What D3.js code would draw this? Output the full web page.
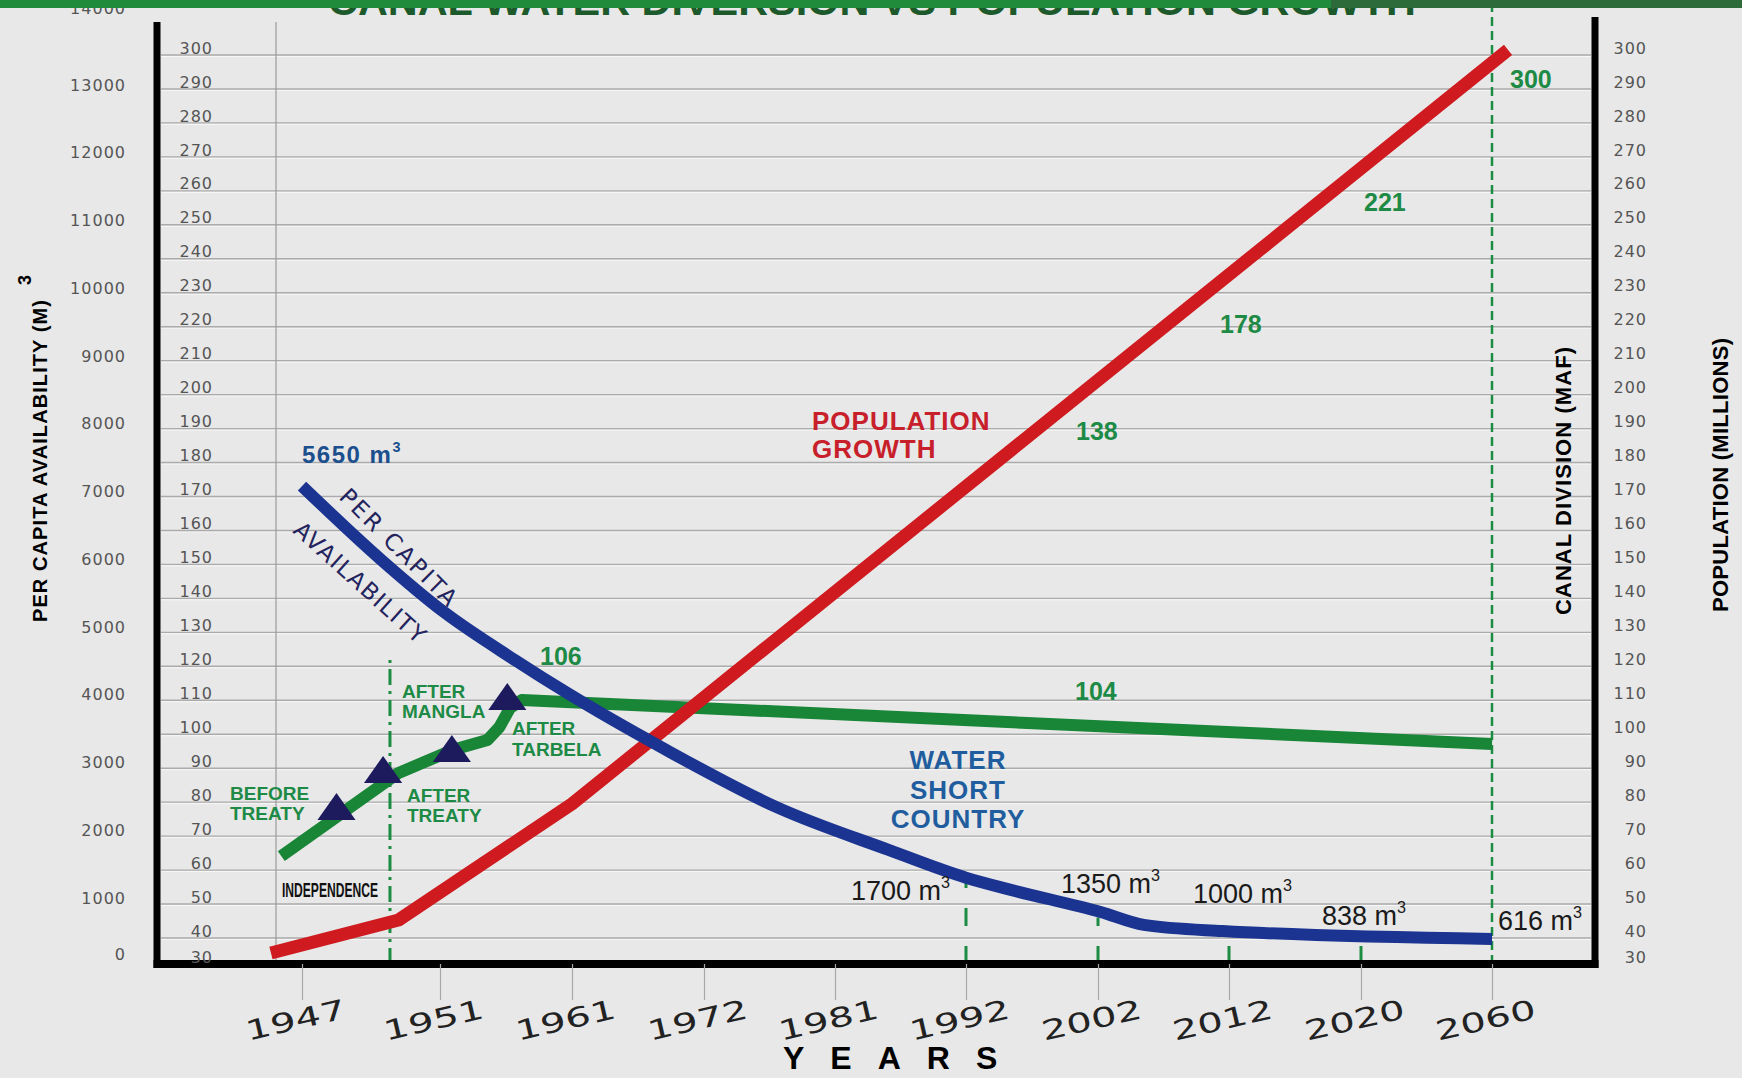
<!doctype HTML>
<html>
<head>
    <style>
        body { margin: 0; background: #e8e8e8; }
        svg { display: block; }
        .tick text { font-family: "DejaVu Sans", sans-serif; font-size: 16px; fill: #555; letter-spacing: 1px; }
    </style>
    <script src="https://d3js.org/d3.v7.min.js"></script>
</head>
<body>
<div id="chart"></div>
<script>

    // year axis (unevenly spaced categories on an even grid)
    var years = [1947, 1951, 1961, 1972, 1981, 1992, 2002, 2012, 2020, 2060];

    // population growth (millions) - red line, right axis
    var popYears = [1946.1, 1949.8, 1961, 2064.9];
    var popValues = [34.2, 45.3, 79.5, 301.5];

    // per capita availability (m3) - blue line, outer left axis
    var capYears = [1947, 1949.3, 1951.3, 1956.7, 1960.6, 1968.6, 1977.1, 1985.5, 1992, 1995.4, 2002.2, 2005.5, 2011.5, 2060];
    var capValues = [7080, 5990, 5220, 4510, 4030, 3210, 2330, 1710, 1300, 1120, 750, 520, 410, 270];

    // canal diversion (MAF) - green line, inner left axis
    var canalYears = [1946.4, 1949.8, 1952, 1954.6, 1955.5, 1956.3, 1957.2, 2060];
    var canalValues = [64.1, 88.6, 95.4, 98.3, 102.1, 107.7, 110.1, 97.1];

    // milestones (triangles) on the canal line
    var markYears = [1948.0, 1949.35, 1951.9, 1956.1];
    var markValues = [77.4, 88.3, 94.5, 109.8];

    // green guide lines: year and top (MAF units)
    var guideYears = [1949.55, 1992, 2002, 2012, 2020, 2060];
    var guideTops = [122, 57, 46, 40, 41.5, 316];

    // tick labels
    var capTicks = d3.range(0, 14001, 1000);
    var mafTicks = d3.range(30, 301, 10);

    var canvasWidth = 1742;
    var canvasHeight = 1078;
    var left = 157, right = 1595, bottom = 964;

    var svg = d3.select("#chart").append("svg")
        .attr("width", canvasWidth)
        .attr("height", canvasHeight);

    svg.append("rect")
        .attr("width", canvasWidth)
        .attr("height", canvasHeight)
        .attr("fill", "#e8e8e8");

    // scales
    var x = d3.scaleLinear()
        .domain(years)
        .range([302, 440, 572, 704, 835, 966, 1098, 1229, 1361, 1492]);
    var yMaf = d3.scaleLinear()
        .domain([30, 40, 300])
        .range([964, 938, 55]);
    var yCap = d3.scaleLinear()
        .domain([0, 1000, 13000, 14000])
        .range([954, 898, 85, 8]);

    // horizontal grid (embossed look)
    var gridVals = mafTicks.filter(d => d >= 40);
    svg.append("g").selectAll("line")
        .data(gridVals)
        .join("line")
        .attr("x1", left + 4).attr("x2", right - 4)
        .attr("y1", d => yMaf(d) + 1.5).attr("y2", d => yMaf(d) + 1.5)
        .attr("stroke", "#f7f7f7").attr("stroke-width", 1);
    svg.append("g").selectAll("line")
        .data(gridVals)
        .join("line")
        .attr("x1", left + 4).attr("x2", right - 4)
        .attr("y1", d => yMaf(d)).attr("y2", d => yMaf(d))
        .attr("stroke", "#ababab").attr("stroke-width", 1.4);

    // single vertical grid line
    svg.append("line")
        .attr("x1", 276).attr("x2", 276)
        .attr("y1", 22).attr("y2", bottom)
        .attr("stroke", "#9a9a9a").attr("stroke-width", 1.2);

    // green guide lines
    var dashes = ["16,6,3,6", "18,20", "18,20", "18,20", "18,20", "9,5"];
    svg.append("g").selectAll("line")
        .data(d3.zip(guideYears, guideTops))
        .join("line")
        .attr("x1", d => x(d[0])).attr("x2", d => x(d[0]))
        .attr("y1", bottom).attr("y2", d => yMaf(d[1]))
        .attr("stroke", "#1c8c43")
        .attr("stroke-width", (d, i) => i == 5 ? 2.5 : 3)
        .attr("stroke-dasharray", (d, i) => dashes[i]);

    // data lines
    var mafLine = d3.line().x(d => x(d[0])).y(d => yMaf(d[1]));
    var capLine = d3.line().x(d => x(d[0])).y(d => yCap(d[1])).curve(d3.curveMonotoneX);

    svg.append("path")
        .datum(d3.zip(canalYears, canalValues))
        .attr("d", mafLine)
        .attr("fill", "none")
        .attr("stroke", "#188537")
        .attr("stroke-width", 12)
        .attr("stroke-linejoin", "round");

    svg.append("path")
        .datum(d3.zip(popYears, popValues))
        .attr("d", mafLine)
        .attr("fill", "none")
        .attr("stroke", "#cf1b1f")
        .attr("stroke-width", 13)
        .attr("stroke-linejoin", "round");

    svg.append("path")
        .datum(d3.zip(capYears, capValues))
        .attr("d", capLine)
        .attr("fill", "none")
        .attr("stroke", "#1b3491")
        .attr("stroke-width", 12);

    // triangles
    svg.append("g").selectAll("path")
        .data(d3.zip(markYears, markValues))
        .join("path")
        .attr("d", d3.symbol().type(d3.symbolTriangle).size(520))
        .attr("transform", d => `translate(${x(d[0])}, ${yMaf(d[1])}) scale(1.1, 0.9)`)
        .attr("fill", "#1d1b5e");

    // frame
    svg.append("line").attr("x1", left).attr("x2", left).attr("y1", 22).attr("y2", 968)
        .attr("stroke", "#000").attr("stroke-width", 7);
    svg.append("line").attr("x1", right).attr("x2", right).attr("y1", 17).attr("y2", 968)
        .attr("stroke", "#000").attr("stroke-width", 7);
    svg.append("line").attr("x1", left - 3.5).attr("x2", right + 3.5).attr("y1", bottom).attr("y2", bottom)
        .attr("stroke", "#000").attr("stroke-width", 8);

    // x axis
    var xAxis = svg.append("g")
        .attr("transform", `translate(0, ${bottom})`)
        .call(d3.axisBottom(x).tickValues(years).tickSize(36).tickFormat(d3.format("d")));
    xAxis.select(".domain").remove();
    xAxis.selectAll(".tick line").attr("stroke", "#a8a8a8").attr("stroke-width", 1.2);
    xAxis.selectAll(".tick text")
        .attr("y", 0).attr("dy", "0.35em")
        .attr("transform", "translate(-7, 56) rotate(-13)")
        .attr("text-anchor", "middle")
        .attr("textLength", 102)
        .attr("lengthAdjust", "spacingAndGlyphs")
        .style("font-size", "27px").style("fill", "#222").style("letter-spacing", "0px");

    // y axes
    var capAxis = svg.append("g")
        .attr("transform", "translate(126, 0)")
        .call(d3.axisLeft(yCap).tickValues(capTicks).tickSize(0).tickPadding(0).tickFormat(d3.format("d")));
    capAxis.select(".domain").remove();

    var mafAxis = svg.append("g")
        .attr("transform", "translate(213, 0)")
        .call(d3.axisLeft(yMaf).tickValues(mafTicks).tickSize(0).tickPadding(0));
    mafAxis.select(".domain").remove();
    mafAxis.selectAll("text").attr("y", -7);

    var popAxis = svg.append("g")
        .attr("transform", "translate(1647, 0)")
        .call(d3.axisLeft(yMaf).tickValues(mafTicks).tickSize(0).tickPadding(0));
    popAxis.select(".domain").remove();
    popAxis.selectAll("text").attr("y", -7);

    // axis titles
    svg.append("text")
        .attr("transform", "translate(47, 461) rotate(-90)")
        .attr("text-anchor", "middle")
        .attr("font-family", "'Liberation Sans', Arial, sans-serif")
        .attr("font-weight", "bold").attr("font-size", 20)
        .attr("textLength", 322)
        .text("PER CAPITA AVAILABILITY (M)");
    svg.append("text")
        .attr("transform", "translate(31, 280) rotate(-90)")
        .attr("text-anchor", "middle")
        .attr("font-family", "'Liberation Sans', Arial, sans-serif")
        .attr("font-weight", "bold").attr("font-size", 18)
        .text("3");
    svg.append("text")
        .attr("transform", "translate(1571, 481) rotate(-90)")
        .attr("text-anchor", "middle")
        .attr("font-family", "'Liberation Sans', Arial, sans-serif")
        .attr("font-weight", "bold").attr("font-size", 22)
        .attr("textLength", 268)
        .text("CANAL DIVISION (MAF)");
    svg.append("text")
        .attr("transform", "translate(1728, 475) rotate(-90)")
        .attr("text-anchor", "middle")
        .attr("font-family", "'Liberation Sans', Arial, sans-serif")
        .attr("font-weight", "bold").attr("font-size", 22)
        .attr("textLength", 274)
        .text("POPULATION (MILLIONS)");
    svg.append("text")
        .attr("x", 783).attr("y", 1069)
        .attr("font-family", "'Liberation Sans', Arial, sans-serif")
        .attr("font-weight", "bold").attr("font-size", 32)
        .attr("letter-spacing", 26)
        .text("YEARS");

    // annotations
    function label(x0, y0, lines, size, color, opts) {
        opts = opts || {};
        var t = svg.append("text")
            .attr("x", x0).attr("y", y0)
            .attr("font-family", opts.family || "'Liberation Sans', Arial, sans-serif")
            .attr("font-weight", opts.weight || "bold")
            .attr("font-size", size)
            .attr("fill", color)
            .attr("text-anchor", opts.anchor || "start")
            .attr("letter-spacing", opts.spacing || 0);
        lines.forEach(function(s, i) {
            t.append("tspan").attr("x", x0).attr("dy", i == 0 ? 0 : (opts.lh || size * 1.05)).text(s);
        });
        return t;
    }
    function cube(x0, y0, value, size, color, weight, spacing) {
        var t = svg.append("text")
            .attr("x", x0).attr("y", y0)
            .attr("font-family", "'Liberation Sans', Arial, sans-serif")
            .attr("font-weight", weight)
            .attr("font-size", size)
            .attr("letter-spacing", spacing || 0)
            .attr("fill", color);
        t.append("tspan").text(value + " m");
        t.append("tspan").attr("dy", -size * 0.45).attr("font-size", size * 0.6).text("3");
    }

    var green = "#1d8a45";
    label(540, 665, ["106"], 25, green);
    label(1075, 700, ["104"], 25, green);
    label(1076, 440, ["138"], 25, green);
    label(1220, 333, ["178"], 25, green);
    label(1364, 211, ["221"], 25, green);
    label(1510, 88, ["300"], 25, green);

    label(230, 800, ["BEFORE", "TREATY"], 19, green, {lh: 20});
    label(402, 698, ["AFTER", "MANGLA"], 19, green, {lh: 20});
    label(512, 735, ["AFTER", "TARBELA"], 19, green, {lh: 21});
    label(407, 802, ["AFTER", "TREATY"], 19, green, {lh: 20});

    label(812, 430, ["POPULATION", "GROWTH"], 26, "#c8202a", {lh: 28, spacing: 1});
    label(958, 769, ["WATER", "SHORT", "COUNTRY"], 26, "#1f5d9e", {lh: 29.5, anchor: "middle", spacing: 1});

    cube(302, 463, "5650", 24, "#1b4f8e", "bold", 1.5);
    cube(851, 900, "1700", 27, "#1a1a1a", "normal");
    cube(1061, 893, "1350", 27, "#1a1a1a", "normal");
    cube(1193, 903, "1000", 27, "#1a1a1a", "normal");
    cube(1322, 925, "838", 27, "#1a1a1a", "normal");
    cube(1498, 930, "616", 27, "#1a1a1a", "normal");

    svg.append("text")
        .attr("x", 282).attr("y", 897)
        .attr("font-family", "'Liberation Sans Narrow', 'Liberation Sans', sans-serif")
        .attr("font-weight", "bold").attr("font-size", 21)
        .attr("textLength", 96).attr("lengthAdjust", "spacingAndGlyphs")
        .attr("fill", "#111")
        .text("INDEPENDENCE");

    svg.append("text")
        .attr("transform", "translate(338, 498) rotate(45)")
        .attr("font-family", "'DejaVu Sans', sans-serif")
        .attr("font-size", 23).attr("fill", "#23235e")
        .attr("textLength", 155)
        .text("PER CAPITA");
    svg.append("text")
        .attr("transform", "translate(292, 532) rotate(42)")
        .attr("font-family", "'DejaVu Sans', sans-serif")
        .attr("font-size", 23).attr("fill", "#23235e")
        .attr("textLength", 168)
        .text("AVAILABILITY");

    // title, mostly cut off by the top edge
    svg.append("text")
        .attr("x", 872).attr("y", 15)
        .attr("text-anchor", "middle")
        .attr("font-family", "'Liberation Sans Narrow', 'Liberation Sans', sans-serif")
        .attr("font-weight", "bold").attr("font-size", 40)
        .attr("textLength", 1088).attr("lengthAdjust", "spacingAndGlyphs")
        .attr("fill", "#1c5a2c")
        .text("CANAL WATER DIVERSION VS POPULATION GROWTH");

    svg.append("rect").attr("x", 0).attr("y", 0).attr("width", 1331).attr("height", 8).attr("fill", "#1f8b3b");
    svg.append("rect").attr("x", 1331).attr("y", 0).attr("width", canvasWidth - 1331).attr("height", 8).attr("fill", "#2d6b3a");

</script>
</body>
</html>
